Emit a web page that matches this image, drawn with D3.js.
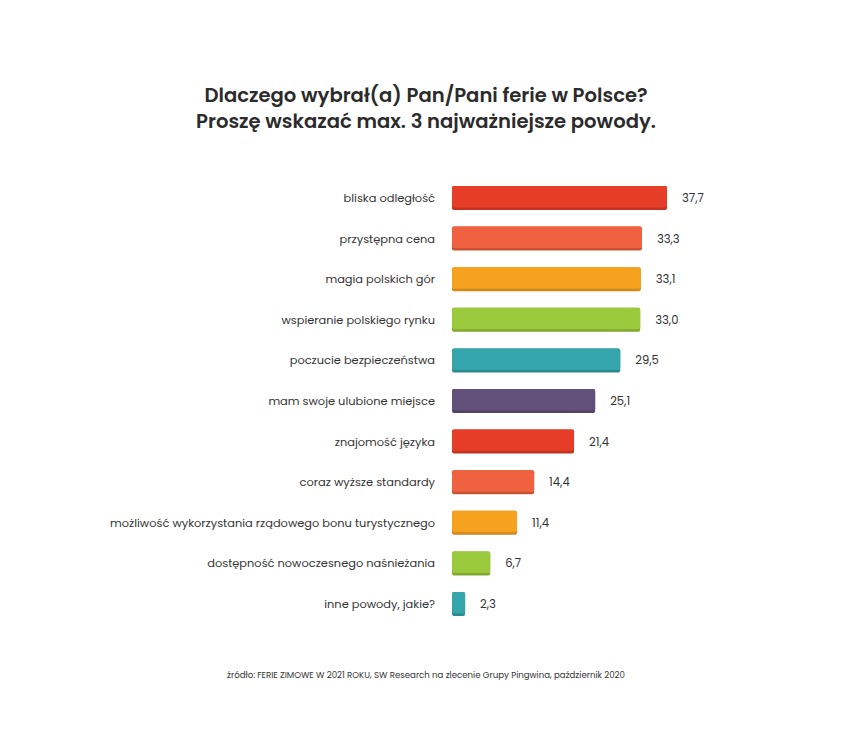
<!DOCTYPE html>
<html><head><meta charset="utf-8">
<script src="https://cdn.jsdelivr.net/npm/d3@7"></script>
<style>body{margin:0;background:#fff;} svg{display:block;}</style>
</head><body>
<svg id="c" width="852" height="731"></svg>
<script>
const categories = ["bliska odległość","przystępna cena","magia polskich gór","wspieranie polskiego rynku","poczucie bezpieczeństwa","mam swoje ulubione miejsce","znajomość języka","coraz wyższe standardy","możliwość wykorzystania rządowego bonu turystycznego","dostępność nowoczesnego naśnieżania","inne powody, jakie?"];
const values = [37.7,33.3,33.1,33.0,29.5,25.1,21.4,14.4,11.4,6.7,2.3];
const colors = ["#e53d27","#f0623f","#f7a21e","#9bc93c","#34a5ab","#62507a","#e53d27","#f0623f","#f7a21e","#9bc93c","#34a5ab"];
const titleLines = ["Dlaczego wybrał(a) Pan/Pani ferie w Polsce?","Proszę wskazać max. 3 najważniejsze powody."];
const source = "źródło: FERIE ZIMOWE W 2021 ROKU, SW Research na zlecenie Grupy Pingwina, październik 2020";

const svg = d3.select("#c");
const font = "Poppins, 'Open Sans', 'Noto Sans', sans-serif";
const x = d3.scaleLinear().domain([0, 37.7]).range([452, 667]);
const y = d3.scaleBand().domain(categories).range([186, 616]).paddingInner(0.409).paddingOuter(0);

svg.selectAll("text.title").data(titleLines).join("text")
  .attr("x", 426).attr("y", (d,i)=>101.5 + i*26)
  .attr("text-anchor","middle").attr("font-family",font).attr("font-weight",600)
  .attr("font-size",19.6).attr("fill","#2b2b2b").text(d=>d);

const g = svg.append("g");
const rows = g.selectAll("g.row").data(categories).join("g");
rows.append("rect")
  .attr("x", x(0)).attr("y", d=>y(d)).attr("width",(d,i)=>x(values[i])-x(0))
  .attr("height", y.bandwidth()).attr("rx",2)
  .attr("fill",(d,i)=>d3.color(colors[i]).darker(0.5));
rows.append("rect")
  .attr("x", x(0)).attr("y", d=>y(d)).attr("width",(d,i)=>x(values[i])-x(0))
  .attr("height", y.bandwidth()-2.5).attr("rx",2)
  .attr("fill",(d,i)=>colors[i]);
rows.append("text")
  .attr("x", 435).attr("y", d=>y(d)+y.bandwidth()/2).attr("dy","0.35em")
  .attr("text-anchor","end").attr("font-family",font).attr("font-size",11.4)
  .attr("fill","#333").text(d=>d);
rows.append("text")
  .attr("x",(d,i)=>x(values[i])+15).attr("y", d=>y(d)+y.bandwidth()/2).attr("dy","0.35em")
  .attr("font-family",font).attr("font-size",11.6).attr("fill","#333")
  .text((d,i)=>d3.format(".1f")(values[i]).replace(".",","));

svg.append("text").attr("x",426).attr("y",678).attr("text-anchor","middle")
  .attr("font-family",font).attr("font-size",8.6).attr("fill","#333").text(source);
</script>
</body></html>
